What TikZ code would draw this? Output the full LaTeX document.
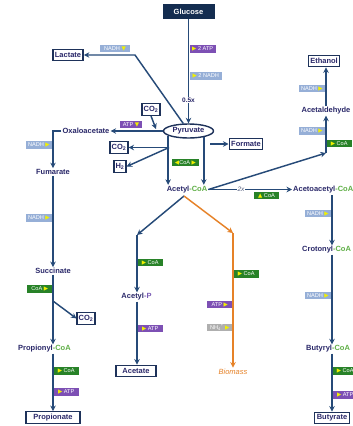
\documentclass[tikz,border=0pt]{standalone}
\usepackage{fontspec}
\setmainfont{Liberation Sans}
\newfontfamily\symf{DejaVu Sans}
\usetikzlibrary{arrows.meta,shapes.geometric,calc}
\definecolor{linecol}{RGB}{38,74,120}
\definecolor{boxcol}{RGB}{30,50,90}
\definecolor{metcol}{RGB}{42,40,105}
\definecolor{glufill}{RGB}{20,45,80}
\definecolor{tgreen}{RGB}{40,130,40}
\definecolor{tpurple}{RGB}{125,80,180}
\definecolor{tblue}{RGB}{150,175,215}
\definecolor{tgray}{RGB}{175,175,175}
\definecolor{coag}{RGB}{95,175,70}
\definecolor{orng}{RGB}{230,130,40}
\definecolor{triy}{RGB}{240,240,0}
\definecolor{ppur}{RGB}{120,90,180}
\definecolor{twoxc}{RGB}{90,100,130}
\newcommand\metf{\fontsize{7.5}{8}\selectfont\bfseries}
\newcommand\tagf{\fontsize{5.6}{6}\selectfont}
\newcommand\trR{{\symf\color{triy}▶}}
\newcommand\trL{{\symf\color{triy}◀}}
\newcommand\trD{{\symf\color{triy}▼}}
\newcommand\trU{{\symf\color{triy}▲}}
\newcommand\coatxt{\textcolor{coag}{-CoA}}
\tikzset{
 met/.style={font=\metf, text=metcol, inner sep=1pt},
 mbox/.style={met, draw=boxcol, line width=1.4pt, fill=white, inner xsep=2pt, inner ysep=1.5pt, minimum height=11.5pt},
 tagbase/.style={font=\tagf, text=white, inner xsep=2.5pt, inner ysep=0.8pt, minimum height=7.5pt, minimum width=25pt},
 tg/.style={tagbase, fill=tgreen},
 tp/.style={tagbase, fill=tpurple},
 tb/.style={tagbase, fill=tblue},
 tn/.style={tagbase, fill=tgray},
 arr/.style={draw=linecol, line width=1.45pt, -{Stealth[length=5.5pt,width=5.5pt]}},
 oarr/.style={arr, draw=orng},
}
\begin{document}
\begin{tikzpicture}[x=1pt,y=-1pt]
\useasboundingbox (0,0) rectangle (353,426);
\fill[white] (0,0) rectangle (353,426);
\clip (0,0) rectangle (353,426);

% metabolites
\node[met, fill=glufill, text=white, minimum width=52pt, minimum height=15pt, inner sep=0pt] (glu) at (188.5,11.5) {Glucose};
\node[ellipse, draw=boxcol, line width=1.4pt, fill=white, met, minimum width=50pt, minimum height=14pt, inner sep=0pt] (pyr) at (188.5,131) {Pyruvate};
\node[mbox] (lac) at (68,55) {Lactate};
\node[met] (oxa) at (86,131) {Oxaloacetate};
\node[mbox, inner xsep=1.5pt] (co2a) at (151,109.5) {CO\textsubscript{2}};
\node[mbox, inner xsep=1.5pt] (co2c) at (119,147.5) {CO\textsubscript{2}};
\node[mbox, inner xsep=1.5pt] (h2) at (120,166.5) {H\textsubscript{2}};
\node[mbox] (form) at (246,144) {Formate};
\node[met] (fum) at (53,172) {Fumarate};
\node[met] (suc) at (53,271) {Succinate};
\node[met, anchor=west] (prcoa) at (17,349) {Propionyl\coatxt};
\node[mbox, inner xsep=1.5pt] (co2b) at (86,318.5) {CO\textsubscript{2}};
\node[mbox, minimum width=54pt] (prop) at (53,417.5) {Propionate};
\node[met] (acoa) at (187,189.5) {Acetyl\coatxt};
\node[met] (acald) at (326,111) {Acetaldehyde};
\node[mbox] (eth) at (324,61) {Ethanol};
\node[met, anchor=west] (aacoa) at (292,189.5) {Acetoacetyl\coatxt};
\node[met, anchor=west] (crot) at (301,250) {Crotonyl\coatxt};
\node[met, anchor=west] (buty) at (305,349) {Butyryl\coatxt};
\node[mbox] (butr) at (332,418) {Butyrate};
\node[met] (acp) at (136.5,297) {Acetyl\textcolor{ppur}{-P}};
\node[mbox, minimum width=40pt] (acet) at (136,371) {Acetate};
\node[met, font=\fontsize{7.5}{8}\selectfont\itshape, text=orng] (bio) at (233,371.5) {Biomass};

% helper points
\coordinate (lacc) at (135,55);
\coordinate (co2tip) at (156,129);
\coordinate (oxc) at (53,131);
\coordinate (sucb) at (53,301);
\coordinate (br) at (169,147.5);
\coordinate (fstart) at (210,144);
\coordinate (acc) at (326,153);
\coordinate (sp) at (184,196);
\coordinate (apc) at (137,235);
\coordinate (bmc) at (233,233);
\coordinate (aav) at (332,195);

% connectors
\draw[arr] (glu.south) -- (pyr.north);
\draw[arr] (pyr.125) -- (lacc) -- (lac.east);
\draw[arr] (pyr.west) -- (oxa.east);
\draw[arr] (co2a.south) -- (co2tip);
\draw[arr] (oxa.west) -- (oxc) -- (fum.north);
\draw[arr] (fum.south) -- (suc.north);
\draw[arr] (suc.south) -- (suc.south |- prcoa.north);
\draw[arr] (sucb) -- (co2b.west);
\draw[arr] (prcoa.south -| suc.south) -- (prop.north -| suc.south);
\draw[arr] (pyr.193) -- (pyr.193 |- acoa.north);
\draw[arr] (pyr.338) -- (pyr.338 |- acoa.north);
\draw[arr] (br) -- (co2c.east);
\draw[arr] (br) -- (h2.east);
\draw[arr] (fstart) -- (form.west);
\draw[arr] (acoa.east) -- (aacoa.west);
\draw[arr] (acoa.east) -- (acc);
\draw[arr] (acc) -- (acc |- acald.south);
\draw[arr] (acald.north) -- (acald.north |- eth.south);
\draw[arr] (aav) -- (aav |- crot.north);
\draw[arr] (crot.south -| aav) -- (buty.north -| aav);
\draw[arr] (buty.south -| aav) -- (butr.north -| aav);
\draw[arr] (sp) -- (apc);
\draw[arr] (apc) -- (apc |- acp.north);
\draw[arr] (acp.south -| apc) -- (acet.north -| apc);
\draw[oarr] (sp) -- (bmc);
\draw[oarr] (bmc) -- (bmc |- bio.north);

% labels on lines
\node[font=\fontsize{6.5}{7}\selectfont\bfseries, text=metcol, fill=white, inner sep=0.6pt] (half) at (188.5,100) {0.5x};
\node[font=\fontsize{6.5}{7}\selectfont\itshape, text=twoxc, fill=white, inner sep=0.8pt] (twox) at (241,189.5) {2x};

% tags
\node[tp, anchor=west] (t1) at (189.5,49) {\trR\ 2 ATP};
\node[tb, anchor=west, minimum width=32pt] (t2) at (189.5,76) {\trR\ 2 NADH};
\node[tb, anchor=south, minimum width=30pt] (t3) at (115,52.5) {NADH \trD};
\node[tp, anchor=south, minimum width=16pt] (t4) at (131,128.5) {ATP \trD};
\node[tb, anchor=east] (t5) at (52.5,145) {NADH \trR};
\node[tb, anchor=east] (t6) at (52.5,218) {NADH \trR};
\node[tg, anchor=east] (t7) at (52.5,289) {CoA \trR};
\node[tg, anchor=west] (t8) at (53.5,371) {\trR\ CoA};
\node[tp, anchor=west] (t9) at (53.5,392) {\trR\ ATP};
\node[tg, minimum width=27pt] (t10) at (185.5,162.5) {\trL CoA \trR};
\node[tb, anchor=east] (t11) at (325.5,88.5) {NADH \trR};
\node[tb, anchor=east] (t12) at (325.5,131) {NADH \trR};
\node[tg, anchor=west] (t13) at (326.5,143.5) {\trR\ CoA};
\node[tg, anchor=north] (t14) at (266.5,191.5) {\trU\ CoA};
\node[tb, anchor=east] (t15) at (331.5,213.5) {NADH \trR};
\node[tb, anchor=east] (t16) at (331.5,295.5) {NADH \trR};
\node[tg, anchor=west] (t17) at (332.5,371) {\trR\ CoA};
\node[tp, anchor=west] (t18) at (332.5,395) {\trR\ ATP};
\node[tg, anchor=west] (t19) at (137.5,262.5) {\trR\ CoA};
\node[tp, anchor=west] (t20) at (137.5,328.5) {\trR\ ATP};
\node[tg, anchor=west] (t21) at (233.5,274) {\trR\ CoA};
\node[tp, anchor=east] (t22) at (232.5,304.5) {ATP \trR};
\node[tn, anchor=east] (t23) at (232.5,327.5) {NH\textsubscript{4}\textsuperscript{+} \trR};
\end{tikzpicture}
\end{document}
